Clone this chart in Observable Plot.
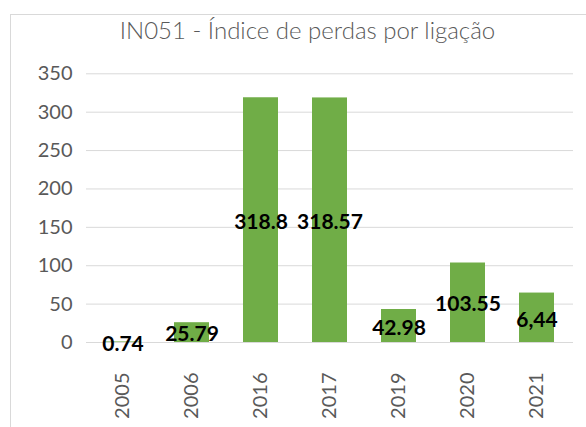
<!DOCTYPE html>
<html><head><meta charset="utf-8">
<script src="https://cdn.jsdelivr.net/npm/d3@7"></script>
<script src="https://cdn.jsdelivr.net/npm/@observablehq/plot@0.6"></script>
<style>
body{margin:0;background:#fff;font-family:Lato,"Open Sans",sans-serif;}
#wrap{position:relative;width:586px;height:427px;overflow:hidden;background:#fff;}
#frame{position:absolute;left:10px;top:14px;width:700px;height:500px;border:1px solid #d9d9d9;box-sizing:border-box;}
#title{position:absolute;left:0;top:15px;width:615px;text-align:center;font-size:24px;line-height:30px;font-weight:300;color:#595959;font-family:Lato,sans-serif;white-space:nowrap;}
#chart{position:absolute;left:0;top:50px;}
</style></head>
<body>
<div id="wrap">
<div id="frame"></div>
<div id="title">IN051 - Índice de perdas por ligação</div>
<div id="chart"></div>
</div>
<script>
const years = ["2005","2006","2016","2017","2019","2020","2021"];
const values = [0.74, 25.79, 318.8, 318.57, 42.98, 103.55, 64.4];
const labels = ["0.74","25.79","318.8","318.57","42.98","103.55","6,44"];
const yTicks = [0,50,100,150,200,250,300,350];

const data = years.map((y,i)=>({year:y, value:values[i], label:labels[i]}));

const plot = Plot.plot({
  width: 586,
  height: 377,
  marginLeft: 86,
  marginRight: 13,
  marginTop: 23.3,
  marginBottom: 85,
  style: {fontFamily: "Lato, sans-serif", background: "transparent", overflow: "visible"},
  x: {domain: years, paddingInner: 0.5, paddingOuter: 0.25, label: null},
  y: {domain: [0,350], label: null},
  marks: [
    Plot.ruleY(yTicks, {stroke: "#d9d9d9", strokeWidth: 1}),
    Plot.barY(data, {x: "year", y: "value", fill: "#70AD47"}),
    Plot.axisY({ticks: yTicks, tickSize: 0, tickPadding: 14, fontSize: 20, color: "#595959", label: null}),
    Plot.axisX({tickSize: 0, tickRotate: -90, tickPadding: 30, fontSize: 20, color: "#595959", label: null}),
    Plot.text(data, {x: "year", y: d => d.value/2, text: "label", fontSize: 21, fontWeight: "bold", fill: "#000", dy: 2})
  ]
});
document.getElementById("chart").appendChild(plot);
</script>
</body></html>
